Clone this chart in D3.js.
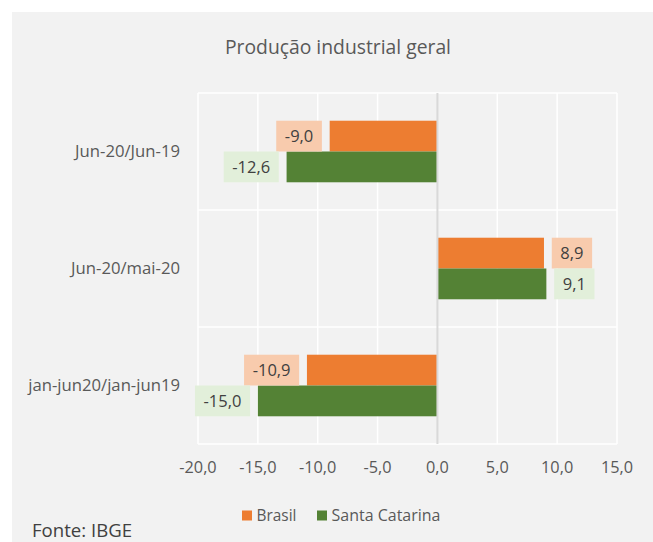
<!DOCTYPE html>
<html>
<head>
<meta charset="utf-8">
<script src="https://cdn.jsdelivr.net/npm/d3@7/dist/d3.min.js"></script>
<style>
  html, body { margin: 0; padding: 0; background: #ffffff; }
  svg { display: block; }
  text { font-family: "Open Sans", "Noto Sans", sans-serif; }
</style>
</head>
<body>
<div id="chart"></div>
<script>
// Produção industrial geral – variação (%)
const categories = ["Jun-20/Jun-19", "Jun-20/mai-20", "jan-jun20/jan-jun19"];
const seriesNames = ["Brasil", "Santa Catarina"];
const brasilValues = [-9.0, 8.9, -10.9];
const santaCatarinaValues = [-12.6, 9.1, -15.0];
const xTicks = [-20, -15, -10, -5, 0, 5, 10, 15];

const colors = { "Brasil": "#ed7d31", "Santa Catarina": "#548235" };
const labelFill = { "Brasil": "#f8cbad", "Santa Catarina": "#e2efda" };

const W = 653, H = 542;
const plot = { left: 198, right: 617, top: 93, bottom: 444 };

const svg = d3.select("#chart").append("svg")
  .attr("width", W).attr("height", H);

// chart area background
svg.append("rect")
  .attr("x", 12).attr("y", 12)
  .attr("width", W - 12).attr("height", H - 12)
  .attr("fill", "#f2f2f2");

const x = d3.scaleLinear().domain([-20, 15]).range([plot.left, plot.right]);
const y = d3.scaleBand().domain(categories).range([plot.top, plot.bottom]).padding(0);
const ySub = d3.scaleBand().domain(seriesNames)
  .range([0, y.bandwidth()])
  .paddingInner(0)
  .paddingOuter(0.9);

const fmt = v => d3.format(".1f")(v).replace(".", ",").replace("−", "-");

// vertical gridlines
svg.append("g").selectAll("line")
  .data(xTicks.filter(t => t !== 0))
  .join("line")
  .attr("x1", d => x(d)).attr("x2", d => x(d))
  .attr("y1", plot.top).attr("y2", plot.bottom)
  .attr("stroke", "#ffffff").attr("stroke-width", 1.5);

// horizontal category separators and plot border
const yEdges = categories.map(c => y(c)).concat([plot.bottom]);
svg.append("g").selectAll("line")
  .data(yEdges)
  .join("line")
  .attr("x1", plot.left).attr("x2", plot.right)
  .attr("y1", d => d).attr("y2", d => d)
  .attr("stroke", "#ffffff").attr("stroke-width", 1.5);

// bars
const rows = categories.map((c, i) => ({
  cat: c,
  values: [
    { name: "Brasil", value: brasilValues[i] },
    { name: "Santa Catarina", value: santaCatarinaValues[i] }
  ]
}));

const groups = svg.append("g").selectAll("g")
  .data(rows)
  .join("g")
  .attr("transform", d => `translate(0,${y(d.cat)})`);

groups.selectAll("rect.bar")
  .data(d => d.values)
  .join("rect")
  .attr("class", "bar")
  .attr("x", d => x(Math.min(0, d.value)))
  .attr("width", d => Math.abs(x(d.value) - x(0)))
  .attr("y", d => ySub(d.name))
  .attr("height", ySub.bandwidth())
  .attr("fill", d => colors[d.name]);

// zero line
svg.append("line")
  .attr("x1", x(0)).attr("x2", x(0))
  .attr("y1", plot.top).attr("y2", plot.bottom)
  .attr("stroke", "#d9d9d9").attr("stroke-width", 2);

// data labels with filled boxes
const labelGap = 7.8, labelPad = 8.6;
groups.selectAll("g.lbl")
  .data(d => d.values)
  .join("g")
  .attr("class", "lbl")
  .each(function(d) {
    const g = d3.select(this);
    const t = g.append("text")
      .attr("font-size", 16.5)
      .attr("fill", "#404040")
      .attr("y", ySub(d.name) + ySub.bandwidth() / 2 + 6)
      .text(fmt(d.value));
    const tw = t.node().getComputedTextLength();
    const bw = tw + 2 * labelPad;
    const bx = d.value < 0 ? x(d.value) - labelGap - bw : x(d.value) + labelGap;
    t.attr("x", bx + labelPad);
    g.insert("rect", "text")
      .attr("x", bx).attr("y", ySub(d.name))
      .attr("width", bw).attr("height", ySub.bandwidth())
      .attr("fill", labelFill[d.name]);
  });

// category axis labels
svg.append("g").selectAll("text")
  .data(categories)
  .join("text")
  .attr("x", 180)
  .attr("y", d => y(d) + y.bandwidth() / 2 + 5.8)
  .attr("text-anchor", "end")
  .attr("font-size", 16.7)
  .attr("fill", "#595959")
  .text(d => d);

// value axis labels
svg.append("g").selectAll("text")
  .data(xTicks)
  .join("text")
  .attr("x", d => x(d))
  .attr("y", 473)
  .attr("text-anchor", "middle")
  .attr("font-size", 16.3)
  .attr("fill", "#595959")
  .text(d => fmt(d));

// title
svg.append("text")
  .attr("x", 338).attr("y", 54)
  .attr("text-anchor", "middle")
  .attr("font-size", 19.5)
  .attr("textLength", 226)
  .attr("lengthAdjust", "spacingAndGlyphs")
  .attr("fill", "#595959")
  .text("Produção industrial geral");

// legend
const legendPos = [242, 317];
const legendWidths = [40, 109];
const legend = svg.append("g").selectAll("g")
  .data(seriesNames)
  .join("g")
  .attr("transform", (d, i) => `translate(${legendPos[i]},510.5)`);
legend.append("rect")
  .attr("width", 10).attr("height", 10)
  .attr("fill", d => colors[d]);
legend.append("text")
  .attr("x", 14.5).attr("y", 10.8)
  .attr("font-size", 15.5)
  .attr("textLength", (d, i) => legendWidths[i])
  .attr("lengthAdjust", "spacingAndGlyphs")
  .attr("fill", "#595959")
  .text(d => d);

// source
svg.append("text")
  .attr("x", 32).attr("y", 537)
  .attr("font-size", 17.5)
  .attr("textLength", 100)
  .attr("lengthAdjust", "spacingAndGlyphs")
  .attr("fill", "#404040")
  .text("Fonte: IBGE");
</script>
</body>
</html>
